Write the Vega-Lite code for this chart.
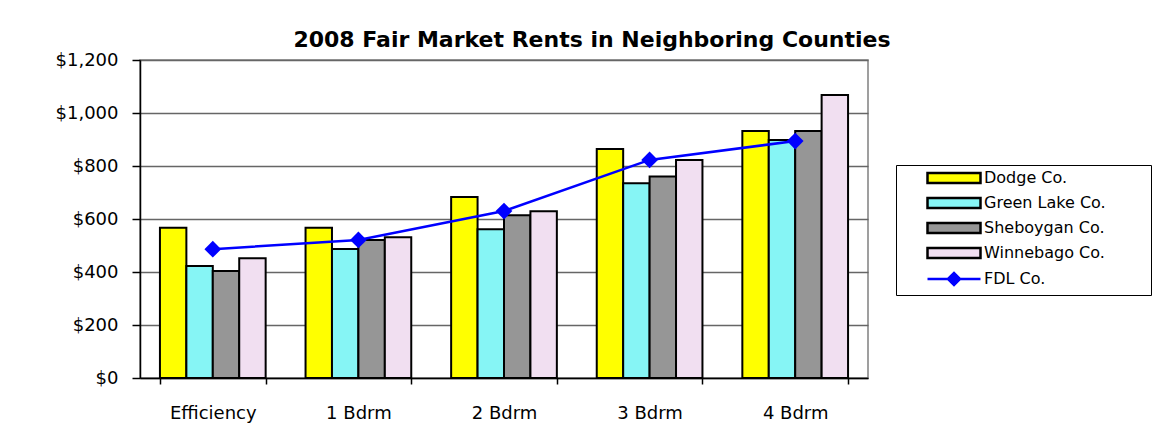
{
  "$schema": "https://vega.github.io/schema/vega-lite/v6.json",
  "autosize": {"type": "none"},
  "width": 728,
  "height": 318,
  "padding": {"left": 140, "top": 60, "right": 301, "bottom": 51},
  "background": "white",
  "title": {
    "text": "2008 Fair Market Rents in Neighboring Counties",
    "font": "DejaVu Sans",
    "fontSize": 22,
    "fontWeight": "bold",
    "color": "black",
    "anchor": "middle",
    "dx": 88,
    "baseline": "alphabetic",
    "offset": -18
  },
  "data": {
    "values": [
      {"unit": "Efficiency", "county": "Dodge Co.", "rent": 567},
      {"unit": "Efficiency", "county": "Green Lake Co.", "rent": 423},
      {"unit": "Efficiency", "county": "Sheboygan Co.", "rent": 404},
      {"unit": "Efficiency", "county": "Winnebago Co.", "rent": 452},
      {"unit": "Efficiency", "county": "FDL Co.", "rent": 486},
      {"unit": "1 Bdrm", "county": "Dodge Co.", "rent": 567},
      {"unit": "1 Bdrm", "county": "Green Lake Co.", "rent": 487},
      {"unit": "1 Bdrm", "county": "Sheboygan Co.", "rent": 521},
      {"unit": "1 Bdrm", "county": "Winnebago Co.", "rent": 531},
      {"unit": "1 Bdrm", "county": "FDL Co.", "rent": 521},
      {"unit": "2 Bdrm", "county": "Dodge Co.", "rent": 683},
      {"unit": "2 Bdrm", "county": "Green Lake Co.", "rent": 561},
      {"unit": "2 Bdrm", "county": "Sheboygan Co.", "rent": 614},
      {"unit": "2 Bdrm", "county": "Winnebago Co.", "rent": 629},
      {"unit": "2 Bdrm", "county": "FDL Co.", "rent": 630},
      {"unit": "3 Bdrm", "county": "Dodge Co.", "rent": 864},
      {"unit": "3 Bdrm", "county": "Green Lake Co.", "rent": 735},
      {"unit": "3 Bdrm", "county": "Sheboygan Co.", "rent": 760},
      {"unit": "3 Bdrm", "county": "Winnebago Co.", "rent": 823},
      {"unit": "3 Bdrm", "county": "FDL Co.", "rent": 823},
      {"unit": "4 Bdrm", "county": "Dodge Co.", "rent": 932},
      {"unit": "4 Bdrm", "county": "Green Lake Co.", "rent": 898},
      {"unit": "4 Bdrm", "county": "Sheboygan Co.", "rent": 932},
      {"unit": "4 Bdrm", "county": "Winnebago Co.", "rent": 1068},
      {"unit": "4 Bdrm", "county": "FDL Co.", "rent": 894}
    ]
  },
  "encoding": {
    "x": {
      "field": "unit",
      "type": "nominal",
      "sort": ["Efficiency", "1 Bdrm", "2 Bdrm", "3 Bdrm", "4 Bdrm"],
      "scale": {"paddingInner": 0.274, "paddingOuter": 0.137},
      "axis": {
        "title": null,
        "labelAngle": 0,
        "tickBand": "extent",
        "domainColor": "black",
        "domainWidth": 1.5,
        "tickColor": "black",
        "tickWidth": 1.5,
        "tickSize": 6,
        "labelPadding": 20,
        "labelFont": "DejaVu Sans",
        "labelFontSize": 18,
        "labelColor": "black"
      }
    },
    "y": {
      "field": "rent",
      "type": "quantitative",
      "scale": {"domain": [0, 1200], "nice": false},
      "axis": {
        "title": null,
        "values": [0, 200, 400, 600, 800, 1000, 1200],
        "format": "$,.0f",
        "domainColor": "black",
        "domainWidth": 1.5,
        "tickColor": "black",
        "tickWidth": 1.5,
        "tickSize": 8,
        "labelPadding": 14,
        "labelFont": "DejaVu Sans",
        "labelFontSize": 18,
        "labelColor": "black",
        "grid": true,
        "gridColor": "#666666",
        "gridWidth": 1.5
      }
    }
  },
  "layer": [
    {
      "transform": [{"filter": "datum.county !== 'FDL Co.'"}],
      "mark": {"type": "bar", "stroke": "black", "strokeWidth": 2, "opacity": 1},
      "encoding": {
        "xOffset": {
          "field": "county",
          "type": "nominal",
          "sort": ["Dodge Co.", "Green Lake Co.", "Sheboygan Co.", "Winnebago Co."],
          "scale": {"paddingInner": 0, "paddingOuter": 0}
        },
        "color": {
          "field": "county",
          "type": "nominal",
          "scale": {
            "domain": ["Dodge Co.", "Green Lake Co.", "Sheboygan Co.", "Winnebago Co.", "FDL Co."],
            "range": ["#ffff00", "#86f5f5", "#969696", "#f1dff1", "#0000ff"]
          },
          "legend": {
            "title": null,
            "orient": "none",
            "legendX": 756,
            "legendY": 105,
            "padding": 5,
            "rowPadding": 5,
            "strokeColor": "black",
            "fillColor": "white",
            "labelFont": "DejaVu Sans",
            "labelFontSize": 16,
            "labelColor": "black",
            "labelBaseline": "middle",
            "symbolSize": 100,
            "symbolStrokeWidth": 2.5,
            "symbolOffset": 45,
            "labelOffset": 22,
            "symbolType": {"expr": "datum.value === 'FDL Co.' ? 'M-5.3,0L5.3,0M-1.2,0L0,-1.2L1.2,0L0,1.2ZM37.4,0' : 'M-5.3,-1L5.3,-1L5.3,1L-5.3,1ZM37.4,0'"},
            "symbolStrokeColor": {"expr": "datum.value === 'FDL Co.' ? '#0000ff' : '#000000'"},
            "encode": {
              "symbols": {
                "update": {
                  "shape": {"signal": "datum.value === 'FDL Co.' ? 'M-5.3,0L5.3,0M-1.2,0L0,-1.2L1.2,0L0,1.2ZM37.4,0' : 'M-5.3,-1L5.3,-1L5.3,1L-5.3,1ZM37.4,0'"},
                  "stroke": {"signal": "datum.value === 'FDL Co.' ? '#0000ff' : '#000000'"},
                  "strokeWidth": {"value": 2.5},
                  "opacity": {"value": 1}
                }
              }
            }
          }
        }
      }
    },
    {
      "transform": [{"filter": "datum.county === 'FDL Co.'"}],
      "mark": {"type": "line", "strokeWidth": 2.5, "color": "#0000ff"},
      "encoding": {}
    },
    {
      "transform": [{"filter": "datum.county === 'FDL Co.'"}],
      "mark": {"type": "point", "shape": "diamond", "filled": true, "size": 280, "opacity": 1, "color": "#0000ff"},
      "encoding": {}
    }
  ],
  "config": {
    "view": {"stroke": "#808080", "strokeWidth": 1.5},
    "font": "DejaVu Sans"
  }
}
